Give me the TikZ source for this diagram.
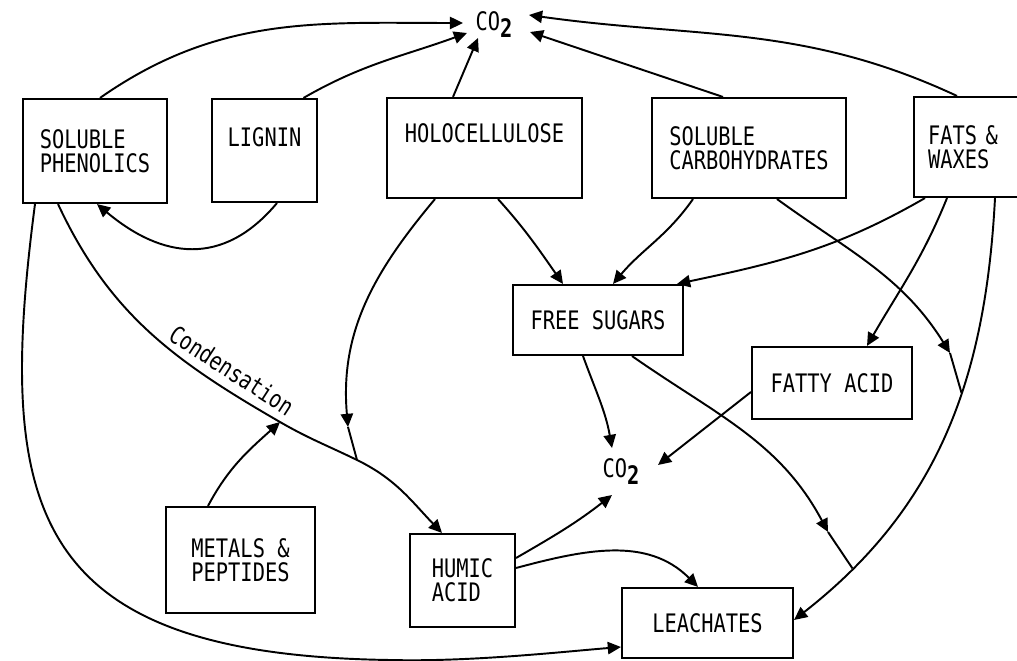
\documentclass[tikz,border=0pt]{standalone}
\usepackage{fontspec}
\newfontfamily\plotfont[FakeStretch=0.8]{DejaVu Sans Mono}
\usetikzlibrary{arrows.meta}
\newcommand{\cotwo}{CO\raisebox{-.5ex}{\bfseries 2}}
\begin{document}
\begin{tikzpicture}[x=0.02cm,y=0.02cm]
    % Define style for boxes and arrows
    \tikzstyle{box} = [draw, rectangle, line width=1.2pt, inner sep=0pt, align=left, font=\plotfont\fontsize{14.5}{13.8}\selectfont]
    \tikzstyle{gas} = [inner sep=0pt, font=\plotfont\fontsize{14.5}{13.8}\selectfont]
    \tikzstyle{lab} = [inner sep=0pt, font=\plotfont\fontsize{14}{13.8}\selectfont]
    \tikzstyle{arr} = [line width=1.1pt, -{Triangle[length=7.5pt,width=7pt]}]
    \tikzstyle{line} = [line width=1.1pt]

    \useasboundingbox (0,0) rectangle (1017,-661);
    \clip (0,0) rectangle (1017,-661);

    % Draw the boxes
    \node(phen)[box, minimum width=2.88cm, minimum height=2.08cm] at (95,-151) {SOLUBLE\\PHENOLICS};
    \node(lig)[box, minimum width=2.1cm, minimum height=2.06cm, text depth=0.54cm] at (264.5,-150.5) {LIGNIN};
    \node(holo)[box, minimum width=3.9cm, minimum height=2cm, text depth=0.6cm] at (484.5,-148) {HOLOCELLULOSE};
    \node(carb)[box, minimum width=3.88cm, minimum height=2cm] at (749,-148) {SOLUBLE\\CARBOHYDRATES};
    \node(fats)[box, minimum width=2.52cm, minimum height=2cm, text width=1.96cm] at (977,-147) {FATS \&\\WAXES};
    \node(fsug)[box, minimum width=3.4cm, minimum height=1.4cm] at (598,-320) {FREE SUGARS};
    \node(facid)[box, minimum width=3.2cm, minimum height=1.44cm] at (832,-383) {FATTY ACID};
    \node(metal)[box, minimum width=2.98cm, minimum height=2.12cm] at (240.5,-560) {METALS \&\\PEPTIDES};
    \node(humic)[box, minimum width=2.1cm, minimum height=1.86cm] at (462.5,-580.5) {HUMIC\\ACID};
    \node(leach)[box, minimum width=3.42cm, minimum height=1.4cm] at (707.5,-623) {LEACHATES};

    % CO2
    \node(co2t)[gas] at (494,-25) {\cotwo};
    \node(co2m)[gas] at (621,-472) {\cotwo};

    % Release to CO2 (top)
    \draw[arr] ([shift={(5,0)}]phen.north) to[out=35,in=180] ([shift={(-31,2)}]co2t.center);
    \draw[arr] ([shift={(39,0)}]lig.north) to[out=30,in=-160] ([shift={(-27,-8)}]co2t.center);
    \draw[arr] ([shift={(-31.5,0)}]holo.north) -- ([shift={(-16,-13)}]co2t.center);
    \draw[arr] ([shift={(-26,0)}]carb.north) -- ([shift={(36,-7)}]co2t.center);
    \draw[arr] ([shift={(-20,0)}]fats.north) to[out=155,in=-8] ([shift={(35,10)}]co2t.center);

    % Lignin to phenolics
    \draw[arr] ([shift={(12.5,0)}]lig.south) to[out=-130,in=-40,looseness=1.2] ([shift={(2,0)}]phen.south);

    % Condensation to humic acid
    \coordinate (cond1) at (280,-422);
    \coordinate (cond2) at (357,-460);
    \draw[arr] ([shift={(-37,0)}]phen.south) to[out=-65,in=150] node[lab, sloped, above=5pt, pos=0.8]{Condensation} (cond1)
      to[out=-30,in=154] (cond2) to[out=-26,in=134] ([shift={(-20.5,0)}]humic.north);
    \draw[arr] ([shift={(-32.5,0)}]metal.north) to[out=62,in=-138] (cond1);
    \coordinate (holoj) at (348,-427);
    \draw[arr] ([shift={(-49.5,0)}]holo.south) to[out=-130,in=95] (holoj);
    \draw[line] (holoj) -- (cond2);

    % To free sugars
    \draw[arr] ([shift={(13.5,0)}]holo.south) to[out=-48,in=125] ([shift={(-35,0)}]fsug.north);
    \draw[arr] ([shift={(-56,0)}]carb.south) to[out=-125,in=50] ([shift={(15,0)}]fsug.north);
    \draw[arr] ([shift={(-52,0)}]fats.south) to[out=-150,in=12] ([shift={(79,0)}]fsug.north);

    % Fats & waxes to fatty acid and leachates
    \draw[arr] ([shift={(-30,0)}]fats.south) to[out=-112,in=60] ([shift={(35,0)}]facid.north);
    \draw[arr] ([shift={(18,0)}]fats.south) to[out=-93,in=38] node[coordinate,pos=0.4](fj1){} node[coordinate,pos=0.85](fj2){} ([shift={(0,3)}]leach.east);
    \coordinate (carbj) at (950,-353);
    \draw[arr] ([shift={(28,0)}]carb.south) to[out=-36,in=122] (carbj);
    \draw[line] (carbj) -- (fj1);
    \coordinate (sugj) at (828,-532);
    \draw[arr] ([shift={(34,0)}]fsug.south) to[out=-35,in=118] (sugj);
    \draw[line] (sugj) -- (fj2);

    % To CO2 (middle)
    \draw[arr] ([shift={(-15,0)}]fsug.south) to[out=-70,in=100] ([shift={(-9,24)}]co2m.center);
    \draw[arr] ([shift={(0,-9)}]facid.west) -- ([shift={(37,7)}]co2m.center);
    \draw[arr] ([shift={(0,22.5)}]humic.east) to[out=30,in=-142] ([shift={(-9,-23)}]co2m.center);

    % To leachates
    \draw[arr] ([shift={(0,12.5)}]humic.east) to[out=15,in=135] ([shift={(-9.5,0)}]leach.north);
    \coordinate (bot) at (390,-660);
    \draw[arr] ([shift={(-60,0)}]phen.south) .. controls (-5,-510) and (30,-655) .. (bot)
      .. controls (470,-662) and (560,-652) .. ([shift={(0,-24)}]leach.west);
\end{tikzpicture}
\end{document}
